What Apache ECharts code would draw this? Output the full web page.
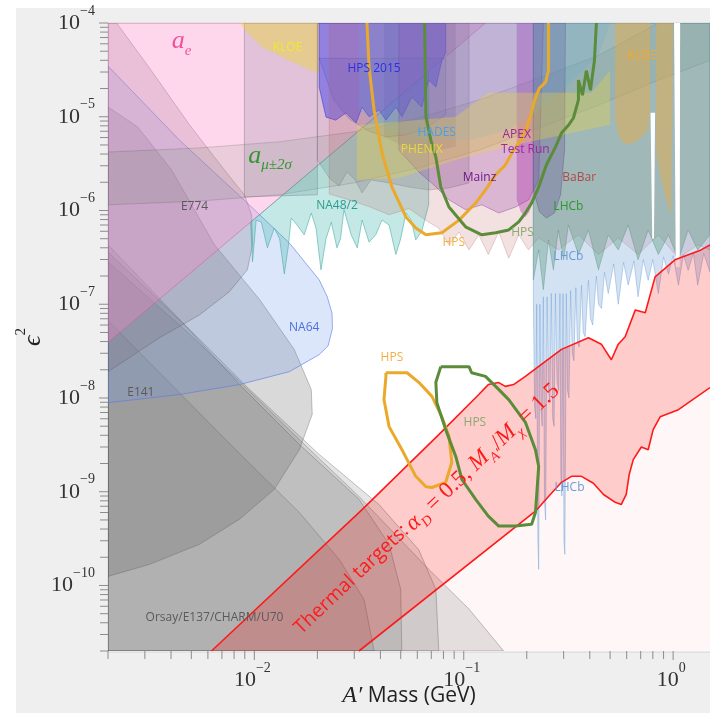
<!DOCTYPE html>
<html><head><meta charset="utf-8">
<script src="https://cdn.jsdelivr.net/npm/echarts@6/dist/echarts.min.js"></script>
<style>html,body{margin:0;padding:0;background:#fff}#c{width:710px;height:713px}</style>
</head><body><div id="c"></div>
<script>
// ---------------- axis ticks ----------------
const xMajorTicks = [0.01, 0.1, 1];
const xMajorExp = ['−2', '−1', '0'];
const xMinorTicks = [0.002,0.003,0.004,0.005,0.006,0.007,0.008,0.009,0.02,0.03,0.04,0.05,0.06,0.07,0.08,0.09,0.2,0.3,0.4,0.5,0.6,0.7,0.8,0.9];
const yMajorTicks = [1e-10,1e-9,1e-8,1e-7,1e-6,1e-5,1e-4];
const yMajorExp = ['−10','−9','−8','−7','−6','−5','−4'];
const yMinorTicks = [2e-11,3e-11,4e-11,5e-11,6e-11,7e-11,8e-11,9e-11,
  2e-10,3e-10,4e-10,5e-10,6e-10,7e-10,8e-10,9e-10,
  2e-9,3e-9,4e-9,5e-9,6e-9,7e-9,8e-9,9e-9,
  2e-8,3e-8,4e-8,5e-8,6e-8,7e-8,8e-8,9e-8,
  2e-7,3e-7,4e-7,5e-7,6e-7,7e-7,8e-7,9e-7,
  2e-6,3e-6,4e-6,5e-6,6e-6,7e-6,8e-6,9e-6,
  2e-5,3e-5,4e-5,5e-5,6e-5,7e-5,8e-5,9e-5];

// ---------------- regions [mass GeV, eps^2] ----------------
const dumpA = [[0.002,4.3e-7],[0.00464,6.05e-8],[0.0085,1.39e-8],[0.0164,3.2e-9],[0.0316,8.3e-10],[0.044,2.75e-10],[0.050,9.1e-11],[0.0506,2e-11],[0.002,2e-11]];
const dumpB = [[0.002,3.6e-7],[0.0049,5.4e-8],[0.0095,1.23e-8],[0.0204,2.5e-9],[0.0394,7.3e-10],[0.061,2.4e-10],[0.0736,9.1e-11],[0.076,2e-11],[0.002,2e-11]];
const dumpC = [[0.002,2.84e-7],[0.0048,5.0e-8],[0.0085,1.5e-8],[0.0164,3.6e-9],[0.0316,8.9e-10],[0.068,1.49e-10],[0.106,5.6e-11],[0.155,2e-11],[0.002,2e-11]];
const dumpD = [[0.002,6.7e-8],[0.0038,1.57e-8],[0.00786,3.04e-9],[0.0164,6.0e-10],[0.0254,1.9e-10],[0.0334,7.1e-11],[0.0373,2e-11],[0.002,2e-11]];
const e141 = [[0.002,1.27e-5],[0.00277,7.8e-6],[0.00403,2.7e-6],[0.00645,4.3e-7],[0.0106,1.12e-7],[0.0155,3.3e-8],[0.0187,1.23e-8],[0.0189,6.7e-9],[0.0164,2.8e-9],[0.01245,1.06e-9],[0.0085,5.1e-10],[0.00547,2.75e-10],[0.00316,1.68e-10],[0.002,1.25e-10]];
const e774 = [[0.002,1e-4],[0.0022,1e-4],[0.00316,3.3e-5],[0.0049,8.2e-6],[0.0072,2.7e-6],[0.00896,1.47e-6],[0.0097,9.0e-7],[0.0098,4.3e-7],[0.00926,2.33e-7],[0.0076,1.36e-7],[0.00547,7.7e-8],[0.00353,4.4e-8],[0.002,1.91e-8]];
const na64 = [[0.002,3.47e-5],[0.0044,5.6e-6],[0.00926,1.2e-6],[0.0147,4.5e-7],[0.0204,1.82e-7],[0.0223,1.2e-7],[0.0235,8.0e-8],[0.0236,5.5e-8],[0.0225,3.6e-8],[0.0204,2.9e-8],[0.0147,1.91e-8],[0.0085,1.39e-8],[0.0044,1.09e-8],[0.002,8.9e-9]];
const aE = [[0.002,3.9e-8],[0.0299,6.4e-6],[0.127,1e-4],[0.002,1e-4]];
const aMu = [[0.002,4.2e-6],[0.00547,4.65e-6],[0.0131,5.4e-6],[0.0299,6.9e-6],[0.061,9.7e-6],[0.118,1.51e-5],[0.228,2.58e-5],[0.44,4.5e-5],[0.85,1e-4],[1.5,1e-4],[1.5,4.0e-5],[0.85,2.46e-5],[0.44,1.33e-5],[0.228,7.6e-6],[0.118,4.4e-6],[0.061,2.85e-6],[0.0299,1.97e-6],[0.0131,1.47e-6],[0.00547,1.26e-6],[0.002,1.15e-6]];
const grayBand = [[0.00896,1e-4],[0.00896,1.4e-6],[0.02,1.47e-6],[0.02,1e-4]];
const kloeLow = [[0.0085,1e-4],[0.0092,8.0e-5],[0.0109,5.5e-5],[0.0145,4.0e-5],[0.0189,3.1e-5],[0.0204,2.9e-5],[0.0204,1e-4]];
const midGray = [[0.02,1e-4],[0.02,3.46e-6],[0.0228,2.22e-6],[0.0254,1.83e-6],[0.0277,2.58e-6],[0.0303,2.12e-6],[0.0327,1.54e-6],[0.036,2.12e-6],[0.044,1.97e-6],[0.0547,1.78e-6],[0.068,1.66e-6],[0.085,1.74e-6],[0.106,1.97e-6],[0.106,1e-4]];
const darkBox = [[0.0416,1e-4],[0.0416,6.1e-6],[0.05,5.0e-6],[0.063,4.4e-6],[0.076,4.4e-6],[0.0916,4.8e-6],[0.0916,1e-4]];
const hpsBowl = [[0.0204,4.2e-5],[0.024,1.5e-5],[0.0283,9.5e-6],[0.0353,7.0e-6],[0.0425,6.1e-6],[0.053,6.4e-6],[0.066,7.6e-6],[0.082,1.05e-5],[0.082,4.2e-5]];
const na48 = [[0.0096,7.5e-7],[0.0299,6.4e-6],[0.068,3.0e-5],[0.068,1.15e-6],[0.063,6.0e-7],[0.059,4.86e-7],[0.056,8.0e-7],[0.053,9.4e-7],[0.050,5.0e-7],[0.0474,3.4e-7],[0.044,7.0e-7],[0.0407,7.9e-7],[0.038,5.5e-7],[0.0353,4.6e-7],[0.0327,7.9e-7],[0.031,4.0e-7],[0.029,5.5e-7],[0.0268,1.02e-6],[0.0258,5.0e-7],[0.0248,4.0e-7],[0.0233,7.5e-7],[0.022,5.0e-7],[0.0208,2.33e-7],[0.0197,6.5e-7],[0.0187,9.4e-7],[0.0173,5.5e-7],[0.016,7.0e-7],[0.015,8.3e-7],[0.0145,4.0e-7],[0.0139,2.1e-7],[0.0132,5.0e-7],[0.01245,6.5e-7],[0.01154,4.0e-7],[0.0108,7.5e-7],[0.0102,7.9e-7],[0.0098,2.84e-7],[0.0096,7.5e-7]];
const hps2015 = [[0.0204,1e-4],[0.0204,2.07e-5],[0.022,9.9e-6],[0.0245,9.2e-6],[0.0274,1.1e-5],[0.0306,8.6e-6],[0.0327,1.27e-5],[0.0353,1e-5],[0.0394,1.18e-5],[0.0425,9.2e-6],[0.0474,1.27e-5],[0.0507,1e-5],[0.0565,1.62e-5],[0.063,1.27e-5],[0.068,2.46e-5],[0.0736,2.07e-5],[0.0786,4.0e-5],[0.082,4.8e-5],[0.082,1e-4]];
const babar = [[0.0228,1e-4],[0.0228,1.5e-6],[0.0283,1.3e-6],[0.0353,1.1e-6],[0.044,9e-7],[0.0547,1.05e-6],[0.068,7.5e-7],[0.076,6.5e-7],[0.085,4.3e-7],[0.095,5.9e-7],[0.106,3.8e-7],[0.118,5.5e-7],[0.131,3.4e-7],[0.147,5.9e-7],[0.164,3.1e-7],[0.183,5.5e-7],[0.204,3.8e-7],[0.228,5.1e-7],[0.283,3.8e-7],[0.353,5.5e-7],[0.44,3.4e-7],[0.547,5.1e-7],[0.68,3.4e-7],[0.85,5.5e-7],[1.06,3.1e-7],[1.31,4.3e-7],[1.5,3.8e-7],[1.5,1e-4]];
const lhcbPrompt = [[0.215,1e-4],[0.215,1.82e-7],[0.228,3.8e-7],[0.24,1.43e-7],[0.254,4.86e-7],[0.268,2.33e-7],[0.283,6.2e-7],[0.30,2.98e-7],[0.316,7.0e-7],[0.353,3.4e-7],[0.394,6.2e-7],[0.44,2.33e-7],[0.49,5.5e-7],[0.547,3.8e-7],[0.61,7.0e-7],[0.68,2.98e-7],[0.76,6.2e-7],[0.85,3.4e-7],[0.95,5.5e-7],[1.06,2.98e-7],[1.18,6.2e-7],[1.31,3.8e-7],[1.5,5.5e-7],[1.5,1e-4]];
const lhcbFuture = [[0.215,1e-4],[0.215,1.2e-7],[0.218,8e-9],[0.221,6e-9],[0.223,1.0e-7],[0.226,3e-10],[0.228,1.49e-10],[0.231,1.0e-7],[0.234,8e-9],[0.237,5e-9],[0.240,1.2e-7],[0.243,8e-10],[0.246,5e-10],[0.250,1.2e-7],[0.254,1.2e-8],[0.258,9e-9],[0.262,1.3e-7],[0.266,6e-9],[0.270,5e-9],[0.274,1.3e-7],[0.279,1.5e-8],[0.284,1.2e-8],[0.288,1.3e-7],[0.291,1.5e-9],[0.294,9e-10],[0.298,1.3e-7],[0.301,3e-10],[0.304,2.15e-10],[0.309,1.3e-7],[0.313,1.2e-8],[0.318,1e-8],[0.324,1.4e-7],[0.330,3e-8],[0.336,2.5e-8],[0.343,1.5e-7],[0.349,4e-8],[0.356,3.5e-8],[0.365,1.6e-7],[0.372,5e-8],[0.380,4.5e-8],[0.394,1.8e-7],[0.403,7e-8],[0.413,6e-8],[0.43,2e-7],[0.44,1e-7],[0.455,9e-8],[0.47,2.2e-7],[0.49,1.3e-7],[0.52,2.7e-7],[0.547,1.0e-7],[0.58,2.8e-7],[0.61,1.6e-7],[0.65,2.9e-7],[0.68,1.2e-7],[0.72,3e-7],[0.76,1.8e-7],[0.80,3e-7],[0.85,1.3e-7],[0.90,3.2e-7],[0.95,2.1e-7],[1.0,3.3e-7],[1.06,1.6e-7],[1.12,3.4e-7],[1.18,2.3e-7],[1.25,3.5e-7],[1.31,1.6e-7],[1.4,3.5e-7],[1.5,2.2e-7],[1.5,1e-4]];
const mainz = [[0.049,1e-4],[0.049,4.4e-6],[0.061,2.58e-6],[0.072,1.87e-6],[0.085,1.3e-6],[0.102,1.02e-6],[0.122,1.15e-6],[0.147,9.4e-7],[0.177,1.09e-6],[0.204,1.3e-6],[0.228,2.12e-6],[0.24,1e-4]];
const apex = [[0.179,1e-4],[0.179,1.3e-6],[0.187,9.7e-7],[0.197,8.5e-7],[0.206,9.7e-7],[0.215,1.3e-6],[0.215,1e-4]];
const lobe = [[0.215,1e-4],[0.215,1.66e-6],[0.230,9.7e-7],[0.248,8.3e-7],[0.271,9.4e-7],[0.29,1.47e-6],[0.303,4.4e-6],[0.306,1e-4]];
const hades = [[0.0316,1e-4],[0.0316,1.18e-5],[0.044,7.2e-6],[0.068,5.6e-6],[0.106,5.6e-6],[0.164,7.2e-6],[0.228,1.18e-5],[0.316,2.2e-5],[0.44,4.5e-5],[0.50,1e-4]];
const phenix = [[0.0309,8.1e-6],[0.0916,1e-5],[0.131,1.8e-5],[0.407,1.8e-5],[0.50,3.1e-5],[0.50,8.2e-6],[0.327,6.7e-6],[0.158,4.75e-6],[0.0916,3.46e-6],[0.049,2.22e-6],[0.0309,2.12e-6]];
const kloeHighA = [[0.529,1e-4],[0.529,9.2e-6],[0.56,5.6e-6],[0.61,5.0e-6],[0.68,5.6e-6],[0.76,7.2e-6],[0.776,1.18e-5],[0.776,1e-4]];
const kloeHighB = [[0.83,1e-4],[0.83,4.4e-6],[0.867,2.4e-6],[0.926,1.3e-6],[0.978,9e-7],[1.0,1e-4]];
const gapA = [[0.78,1.1e-5],[0.82,1.1e-5],[0.81,5e-7],[0.795,5e-7]];
const gapB = [[1.01,1e-4],[1.08,1e-4],[1.075,2.5e-7],[1.03,2.5e-7]];

// thermal target band
const thermalUpper = [[0.00624,2e-11],[0.0327,6.45e-10],[0.076,4.07e-9],[0.118,1.09e-8],[0.131,1.39e-8],[0.147,1.46e-8],[0.158,1.33e-8],[0.173,1.39e-8],[0.197,1.7e-8],[0.293,3.3e-8],[0.394,4.4e-8],[0.454,3.75e-8],[0.507,2.56e-8],[0.547,3.75e-8],[0.59,4.5e-8],[0.66,8.7e-8],[0.736,8.1e-8],[0.82,1.96e-7],[1.02,2.98e-7],[1.36,3.8e-7],[1.5,4.3e-7]];
const thermalLower = [[0.0316,2e-11],[0.22,6.2e-10],[0.254,8.9e-10],[0.293,1.26e-9],[0.327,1.46e-9],[0.365,1.46e-9],[0.416,1.23e-9],[0.465,9.35e-10],[0.529,7.7e-10],[0.565,7.3e-10],[0.597,9.35e-10],[0.617,1.53e-9],[0.645,2.2e-9],[0.705,3.0e-9],[0.76,2.8e-9],[0.803,4.6e-9],[0.867,6.3e-9],[1.06,7.5e-9],[1.5,1.29e-8]];

// HPS projections
const hpsOrange = [[0.0345,1e-4],[0.0353,3.4e-5],[0.0373,1.18e-5],[0.0407,4.1e-6],[0.0454,1.78e-6],[0.053,8.5e-7],[0.059,6.5e-7],[0.066,5.5e-7],[0.0786,5.8e-7],[0.095,7.9e-7],[0.114,1.2e-6],[0.127,1.66e-6],[0.142,2.4e-6],[0.158,3.06e-6],[0.173,4.4e-6],[0.187,5.6e-6],[0.20,7.6e-6],[0.209,1.04e-5],[0.218,1.51e-5],[0.23,2.02e-5],[0.246,2.34e-5],[0.254,3.1e-5],[0.254,1e-4]];
const hpsGreen = [[0.065,1e-4],[0.066,1e-5],[0.0697,5.6e-6],[0.0736,3.7e-6],[0.0777,1.78e-6],[0.085,1.09e-6],[0.102,6.7e-7],[0.122,5.5e-7],[0.142,5.8e-7],[0.164,6.2e-7],[0.183,7.55e-7],[0.197,9.4e-7],[0.211,1.2e-6],[0.228,1.78e-6],[0.248,3.06e-6],[0.274,4.75e-6],[0.293,6.7e-6],[0.316,8.1e-6],[0.334,9.7e-6],[0.353,1.51e-5],[0.353,2.46e-5],[0.369,1.7e-5],[0.385,3.1e-5],[0.403,1.92e-5],[0.421,4.0e-5],[0.43,1e-4]];
const hpsOrangeLoop = [[0.0425,1.86e-8],[0.0536,1.86e-8],[0.061,1.47e-8],[0.0705,1.04e-8],[0.0786,6.3e-9],[0.085,3.9e-9],[0.0877,2.06e-9],[0.082,1.26e-9],[0.0705,1.11e-9],[0.066,1.13e-9],[0.059,1.46e-9],[0.0507,2.8e-9],[0.044,4.95e-9],[0.0416,9.6e-9],[0.0425,1.7e-8],[0.0425,1.86e-8]];
const hpsGreenLoop = [[0.0777,2.16e-8],[0.106,2.16e-8],[0.109,1.86e-8],[0.127,1.7e-8],[0.142,1.33e-8],[0.164,9.6e-9],[0.197,5.5e-9],[0.22,2.8e-9],[0.228,1.86e-9],[0.22,6.0e-10],[0.211,4.5e-10],[0.177,4.3e-10],[0.147,4.3e-10],[0.131,5.5e-10],[0.114,8.3e-10],[0.098,1.35e-9],[0.0916,2.38e-9],[0.082,4.6e-9],[0.0744,8.9e-9],[0.0736,1.47e-8],[0.0777,2.16e-8]];

// labels: text and anchor in data units
const labelText = ['{a|a}{s|e}','KLOE','HPS 2015','{a|a}{s|μ±2σ}','E774','NA48/2','HADES','PHENIX','APEX','Test Run','Mainz','BaBar','LHCb','HPS','HPS','LHCb','KLOE','NA64','HPS','HPS','E141','LHCb','Orsay/E137/CHARM/U70'];
const labelPos = [[0.00449,6.1e-5],[0.0144,5.5e-5],[0.0373,3.3e-5],[0.0119,3.63e-6],[0.00518,1.09e-6],[0.0248,1.12e-6],[0.0743,6.7e-6],[0.063,4.5e-6],[0.179,6.4e-6],[0.197,4.5e-6],[0.119,2.22e-6],[0.356,2.22e-6],[0.316,1.09e-6],[0.0896,4.6e-7],[0.191,5.8e-7],[0.316,3.2e-7],[0.711,4.5e-5],[0.0173,5.6e-8],[0.0454,2.7e-8],[0.113,5.5e-9],[0.00287,1.14e-8],[0.32,1.11e-9],[0.00645,4.5e-11]];
const thermalText = '{t|Thermal targets:} {m|α}{s|D}{n| = 0.5, }{m|M}{s|A′}{n|/}{m|M}{s|χ}{n| = 1.5}';
const thermalPos = [0.068, 6.2e-10];

// ---------------- styles ----------------
const labelColor = ['#f0509a','#eeea2c','#2f2fe0','#2e9a2e','#5a5a5a','#2a9d8f','#4aa0e8','#e6da3c','#9a2a9a','#9a2a9a','#6a1a8a','#b04a4a','#2a9a2a','#f0b040','#8aaa70','#6a9ad8','#f0a830','#4a6fe0','#f0b040','#8aaa70','#5a5a5a','#6a9ad8','#5a5a5a'];
const SERIF = 'Liberation Serif';
const SANS = 'Open Sans';

let zc = 1;
function area(pts, fill, stroke, lw) {
  return {type:'custom', coordinateSystem:'cartesian2d', z: zc++, clip:true, silent:true, animation:false,
    data:[pts[0]],
    renderItem: function (params, api) {
      return {type:'polygon', shape:{points: pts.map(function (p) { return api.coord(p); })},
        style:{fill: fill, stroke: stroke || null, lineWidth: lw || 1}};
    }};
}
function curve(pts, color, width) {
  return {type:'line', data: pts, symbol:'none', showSymbol:false, z: zc++, clip:true, silent:true, animation:false,
    lineStyle:{color: color, width: width}};
}
const GR = 'rgba(115,115,115,0.19)', GRS = 'rgba(90,90,90,0.35)';

const series = [
  area(thermalLower.concat([[1.5,2e-11]]), 'rgba(255,0,0,0.03)'),
  area(dumpC, GR, GRS), area(dumpB, GR, GRS), area(dumpA, GR, GRS), area(dumpD, 'rgba(110,110,110,0.17)', GRS),
  area(e141, 'rgba(95,95,95,0.24)', GRS),
  area(na64, 'rgba(110,150,240,0.24)', 'rgba(90,120,230,0.6)'),
  area(e774, 'rgba(115,105,115,0.22)', GRS),
  area(aE, 'rgba(255,130,200,0.32)', 'rgba(210,80,140,0.45)'),
  area(aMu, 'rgba(80,130,80,0.12)', 'rgba(90,90,90,0.25)'),
  area(grayBand, 'rgba(140,135,160,0.26)', 'rgba(110,110,130,0.4)'),
  area(kloeLow, 'rgba(235,215,40,0.4)'),
  area(midGray, 'rgba(120,110,130,0.24)', 'rgba(100,100,110,0.3)'),
  area(darkBox, 'rgba(80,65,110,0.2)'),
  area(na48, 'rgba(60,180,170,0.3)', 'rgba(60,170,160,0.55)'),
  area(hpsBowl, 'rgba(110,120,170,0.22)', 'rgba(90,100,150,0.35)'),
  area(hps2015, 'rgba(70,70,235,0.5)', 'rgba(60,60,220,0.6)'),
  area(babar, 'rgba(190,90,90,0.18)', 'rgba(180,110,110,0.3)'),
  area(lhcbPrompt, 'rgba(70,140,70,0.35)', 'rgba(70,140,70,0.4)'),
  area(lhcbFuture, 'rgba(110,160,215,0.3)', 'rgba(110,160,215,0.45)'),
  area(mainz, 'rgba(150,60,170,0.26)', 'rgba(120,60,150,0.4)'),
  area(apex, 'rgba(170,40,170,0.35)'),
  area(lobe, 'rgba(100,80,150,0.3)', 'rgba(90,80,130,0.4)'),
  area(hades, 'rgba(90,170,230,0.2)'),
  area(phenix, 'rgba(240,215,60,0.32)'),
  area(gapA, '#ffffff'), area(gapB, '#ffffff'),
  area(kloeHighA, 'rgba(245,170,50,0.4)'), area(kloeHighB, 'rgba(245,170,50,0.4)'),
  area(thermalUpper.concat([[1.5,1.29e-8]]).concat(thermalLower.slice().reverse()), 'rgba(255,0,0,0.2)'),
  curve(thermalUpper, '#ff1a1a', 1.6),
  curve(thermalLower, '#ff1a1a', 1.6),
  curve(hpsOrange, '#eaa92a', 3),
  curve(hpsGreen, '#5b8c3a', 3),
  curve(hpsOrangeLoop, '#eaa92a', 3),
  curve(hpsGreenLoop, '#5b8c3a', 3)
];

const RICH = {
  a: {fontFamily: SERIF, fontStyle:'italic', fontSize: 26, verticalAlign:'top', lineHeight: 30},
  s: {fontFamily: SERIF, fontStyle:'italic', fontSize: 15, verticalAlign:'bottom'}
};
series.push({type:'custom', coordinateSystem:'cartesian2d', z: 200, clip:false, silent:true, animation:false,
  data: labelPos,
  renderItem: function (params, api) {
    const i = params.dataIndex;
    const c = api.coord([api.value(0), api.value(1)]);
    return {type:'text', x: c[0], y: c[1], style:{text: labelText[i], fill: labelColor[i], fontFamily: SANS, fontSize: 12,
      align:'center', verticalAlign:'middle', rich: RICH}};
  }});
series.push({type:'custom', coordinateSystem:'cartesian2d', z: 201, clip:false, silent:true, animation:false,
  data: [thermalPos],
  renderItem: function (params, api) {
    const c = api.coord([api.value(0), api.value(1)]);
    return {type:'text', x: c[0], y: c[1], rotation: 43.5 * Math.PI / 180,
      style:{text: thermalText, fill:'#ff1a1a', align:'center', verticalAlign:'middle',
        rich: {
          t: {fontFamily: SANS, fontSize: 19.5, verticalAlign:'top', lineHeight: 27},
          m: {fontFamily: SERIF, fontStyle:'italic', fontSize: 23, verticalAlign:'top'},
          n: {fontFamily: SERIF, fontSize: 23, verticalAlign:'top'},
          s: {fontFamily: SERIF, fontStyle:'italic', fontSize: 14, verticalAlign:'bottom'}
        }}};
  }});

// ticks
const TICK = '#8c8c8c';
const TL_RICH = {
  b: {fontFamily: SERIF, fontSize: 22, verticalAlign:'bottom', lineHeight: 30},
  e: {fontFamily: SERIF, fontSize: 14, verticalAlign:'top'}
};
series.push({type:'custom', coordinateSystem:'cartesian2d', z: 300, clip:false, silent:true, animation:false,
  data: xMinorTicks.map(function (v) { return [v, 2e-11]; }),
  renderItem: function (params, api) {
    const c = api.coord([api.value(0), api.value(1)]);
    return {type:'line', shape:{x1:c[0], y1:c[1], x2:c[0], y2:c[1]+8}, style:{stroke: TICK, lineWidth: 1}};
  }});
series.push({type:'custom', coordinateSystem:'cartesian2d', z: 300, clip:false, silent:true, animation:false,
  data: yMinorTicks.map(function (v) { return [0.002, v]; }),
  renderItem: function (params, api) {
    const c = api.coord([api.value(0), api.value(1)]);
    return {type:'line', shape:{x1:c[0]-8, y1:c[1], x2:c[0], y2:c[1]}, style:{stroke: TICK, lineWidth: 1}};
  }});
series.push({type:'custom', coordinateSystem:'cartesian2d', z: 300, clip:false, silent:true, animation:false,
  data: xMajorTicks.map(function (v) { return [v, 2e-11]; }),
  renderItem: function (params, api) {
    const c = api.coord([api.value(0), api.value(1)]);
    return {type:'group', children:[
      {type:'line', shape:{x1:c[0], y1:c[1], x2:c[0], y2:c[1]+9}, style:{stroke: TICK, lineWidth: 1}},
      {type:'text', x:c[0]-2, y:c[1]+10, style:{text:'{b|10}{e|'+xMajorExp[params.dataIndex]+'}', fill:'#333', align:'center', verticalAlign:'top', rich: TL_RICH}}
    ]};
  }});
series.push({type:'custom', coordinateSystem:'cartesian2d', z: 300, clip:false, silent:true, animation:false,
  data: yMajorTicks.map(function (v) { return [0.002, v]; }),
  renderItem: function (params, api) {
    const c = api.coord([api.value(0), api.value(1)]);
    return {type:'group', children:[
      {type:'line', shape:{x1:c[0]-9, y1:c[1], x2:c[0], y2:c[1]}, style:{stroke: TICK, lineWidth: 1}},
      {type:'text', x:c[0]-13, y:c[1]-4, style:{text:'{b|10}{e|'+yMajorExp[params.dataIndex]+'}', fill:'#333', align:'right', verticalAlign:'middle', rich: TL_RICH}}
    ]};
  }});

const chart = echarts.init(document.getElementById('c'), null, {width: 710, height: 713});
chart.setOption({
  animation: false,
  backgroundColor: '#ffffff',
  graphic: [
    {type:'rect', z:-100, silent:true, shape:{x:16, y:8, width:694, height:705}, style:{fill:'#efefef'}},
    {type:'rect', z:-99, silent:true, shape:{x:108, y:23, width:604, height:629}, style:{fill:'#ffffff', stroke:'#d4d4d4', lineWidth:1}}
  ],
  grid: {left:108, top:23, width:604, height:629, show:false},
  xAxis: {type:'log', logBase:10, min:0.002, max:1.5,
    name:'{i|A′} Mass (GeV)', nameLocation:'middle', nameGap:33,
    nameTextStyle:{fontFamily: SANS, fontSize:21, color:'#222', rich:{i:{fontFamily: SERIF, fontStyle:'italic', fontSize:24, color:'#222'}}},
    axisLine:{show:false}, axisTick:{show:false}, axisLabel:{show:false}, splitLine:{show:false}},
  yAxis: {type:'log', logBase:10, min:2e-11, max:1e-4,
    name:'{e|ϵ}{s|2}', nameLocation:'middle', nameRotate:90, nameGap:62,
    nameTextStyle:{color:'#222', rich:{e:{fontFamily: SERIF, fontStyle:'italic', fontSize:26, verticalAlign:'bottom', lineHeight:32, color:'#222'}, s:{fontFamily: SERIF, fontSize:15, verticalAlign:'top', color:'#222'}}},
    axisLine:{show:false}, axisTick:{show:false}, axisLabel:{show:false}, splitLine:{show:false}},
  series: series
});
</script></body></html>
